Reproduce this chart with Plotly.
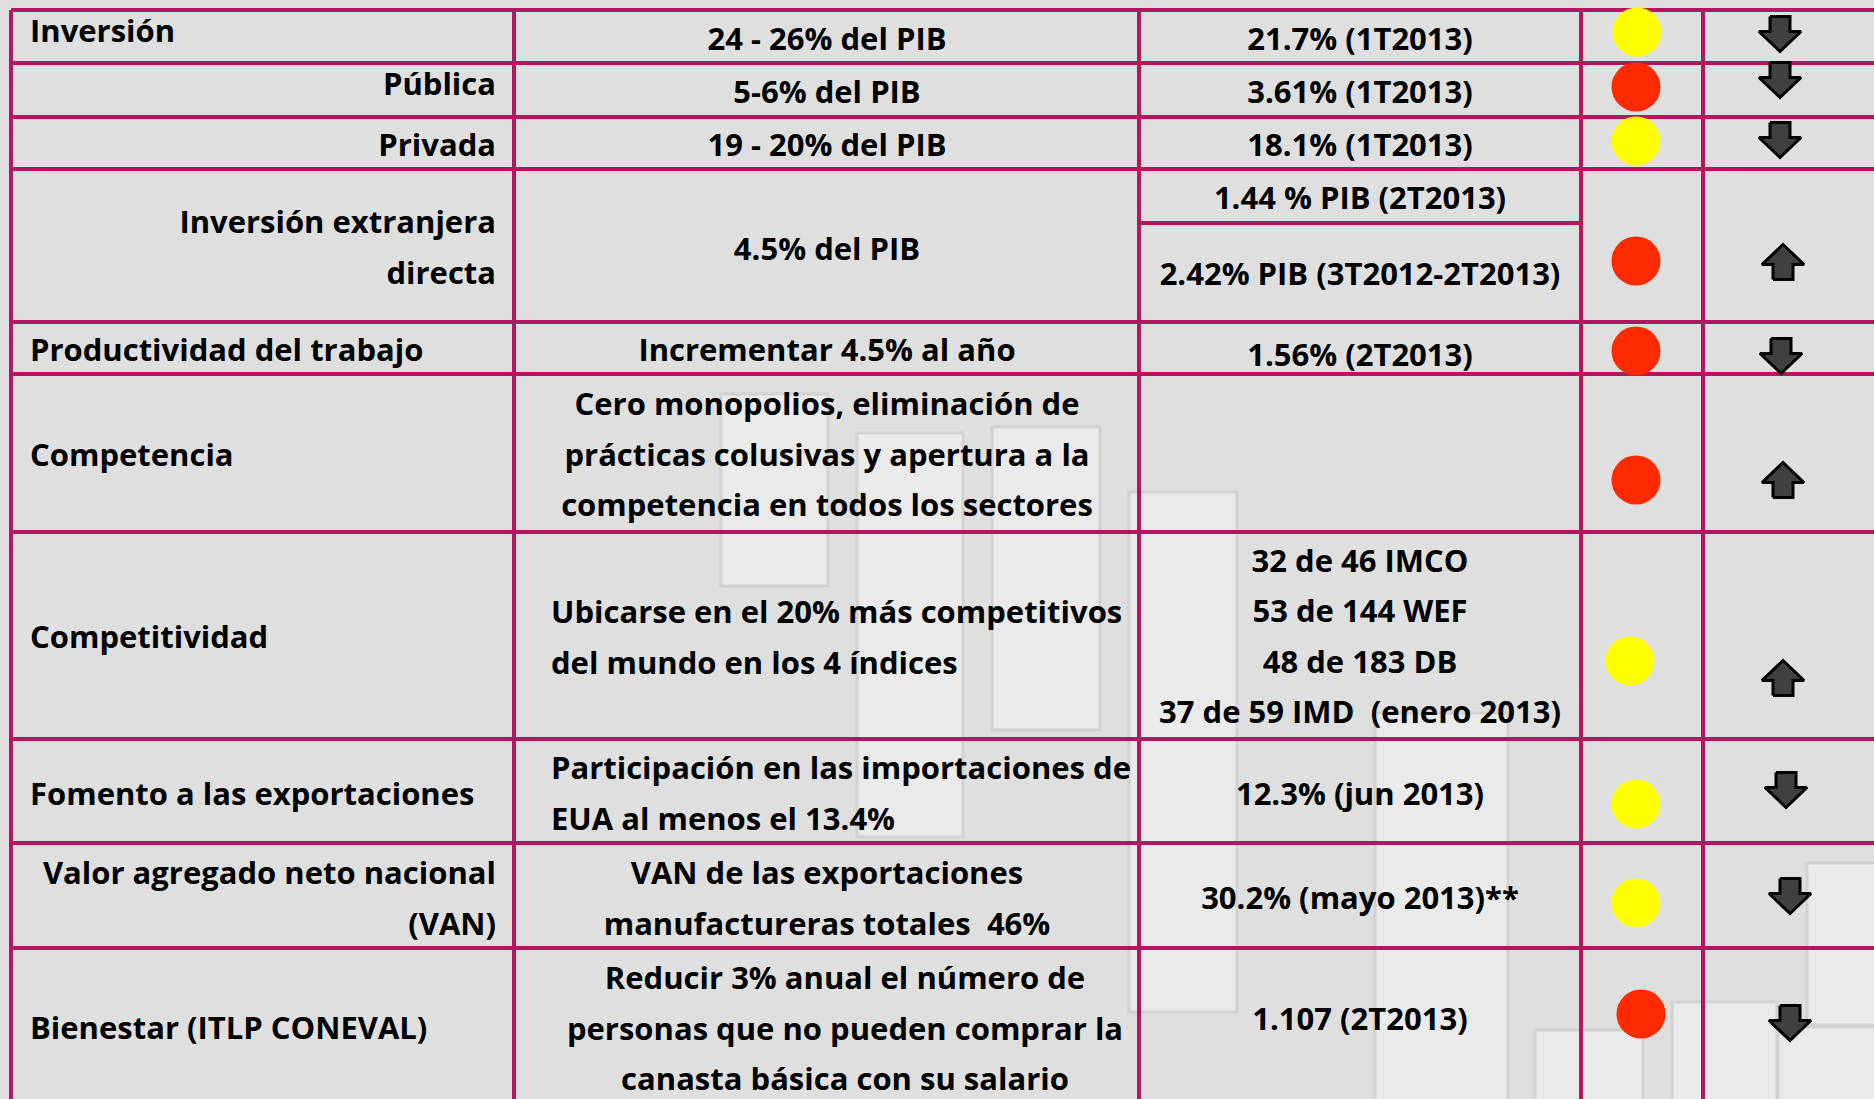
import plotly.graph_objects as go

# ---------------- data ----------------
indicadores = [
    ["Inversión"],
    ["Pública"],
    ["Privada"],
    ["Inversión extranjera", "directa"],
    ["Productividad del trabajo"],
    ["Competencia"],
    ["Competitividad"],
    ["Fomento a las exportaciones"],
    ["Valor agregado neto nacional", "(VAN)"],
    ["Bienestar (ITLP CONEVAL)"],
]
metas = [
    ["24 - 26% del PIB"],
    ["5-6% del PIB"],
    ["19 - 20% del PIB"],
    ["4.5% del PIB"],
    ["Incrementar 4.5% al año"],
    ["Cero monopolios, eliminación de", "prácticas colusivas y apertura a la", "competencia en todos los sectores"],
    ["Ubicarse en el 20% más competitivos", "del mundo en los 4 índices"],
    ["Participación en las importaciones de", "EUA al menos el 13.4%"],
    ["VAN de las exportaciones", "manufactureras totales  46%"],
    ["Reducir 3% anual el número de", "personas que no pueden comprar la", "canasta básica con su salario"],
]
situacion = [
    ["21.7% (1T2013)"],
    ["3.61% (1T2013)"],
    ["18.1% (1T2013)"],
    ["1.44 % PIB (2T2013)", "2.42% PIB (3T2012-2T2013)"],
    ["1.56% (2T2013)"],
    [],
    ["32 de 46 IMCO", "53 de 144 WEF", "48 de 183 DB", "37 de 59 IMD  (enero 2013)"],
    ["12.3% (jun 2013)"],
    ["30.2% (mayo 2013)**"],
    ["1.107 (2T2013)"],
]
semaforo = ["amarillo", "rojo", "amarillo", "rojo", "rojo", "rojo", "amarillo", "amarillo", "amarillo", "rojo"]
tendencia = ["baja", "baja", "baja", "sube", "baja", "sube", "sube", "baja", "baja", "baja"]

# ---------------- layout / style (positions in pixels) ----------------
W, H = 1874, 1099
LINE = "#B5175E"
BG = "#DFDFDF"
FONT = "Open Sans"
FS = 31
LH = 50.5
DY = 3.5  # baseline correction for the substitute font
colores = {"amarillo": "#FFFF00", "rojo": "#FF2A00"}

col_edges = [11, 514, 1139, 1581, 1703, W + 5]
row_edges = [10, 63, 117, 169, 322, 374, 532, 739, 843, 948, H + 5]
sub_line_y = 223  # split inside row 4, column 3

# per-row text anchors: (align, x, y_center)
c1_pos = [("l", 30, 31), ("r", 496, 84), ("r", 496, 145), ("r", 496, 247), ("l", 30, 350),
          ("l", 30, 455), ("l", 30, 637), ("l", 30, 794), ("r", 496, 898), ("l", 30, 1028)]
c2_pos = [("c", 827, 39), ("c", 827, 92), ("c", 827, 145), ("c", 827, 249), ("c", 827, 350),
          ("c", 827, 454.5), ("l", 551, 637), ("l", 551, 793), ("c", 827, 898), ("c", 845, 1028.5)]
c3_pos = [("c", 1360, 39), ("c", 1360, 92), ("c", 1360, 145), ("c", 1360, None), ("c", 1360, 355),
          ("c", 1360, 455), ("c", 1360, 636), ("c", 1360, 794), ("c", 1360, 898), ("c", 1360, 1019)]
c3_sub_y = [198, 274]
circ_pos = [(1637, 32), (1636, 87), (1636, 141), (1636, 261), (1636, 351),
            (1636, 480), (1630, 661), (1636, 804), (1636, 903), (1641, 1014)]
arrow_pos = [(1780, 34), (1780, 80), (1780, 140), (1783, 262), (1781, 356),
             (1783, 480), (1783, 678), (1786, 790), (1790, 896), (1790, 1023)]

deco_boxes = [(721, 394, 828, 586), (857, 433, 963, 837), (992, 427, 1100, 730),
              (1129, 492, 1237, 1012), (1375, 713, 1508, 1110), (1535, 1030, 1643, 1110),
              (1672, 1002, 1777, 1110), (1807, 863, 1880, 1025), (1778, 1027, 1880, 1110)]

fig = go.Figure()
shapes = []
for (x0, y0, x1, y1) in deco_boxes:
    shapes.append(dict(type="rect", x0=x0, y0=y0, x1=x1, y1=y1, layer="below",
                       fillcolor="#EAEAEA", line=dict(color="#D2D2D2", width=3)))
# horizontal lines
for y in row_edges[:-1]:
    shapes.append(dict(type="line", x0=col_edges[0], x1=W + 5, y0=y, y1=y, layer="below",
                       line=dict(color=LINE, width=4)))
shapes.append(dict(type="line", x0=col_edges[2], x1=col_edges[3], y0=sub_line_y, y1=sub_line_y,
                   layer="below", line=dict(color=LINE, width=4)))
for x in col_edges[:-1]:
    shapes.append(dict(type="line", x0=x, x1=x, y0=row_edges[0], y1=H + 5, layer="below",
                       line=dict(color=LINE, width=4)))

# texts
groups = {"l": ([], [], []), "r": ([], [], []), "c": ([], [], [])}

def add_lines(lines, align, x, yc):
    n = len(lines)
    for i, t in enumerate(lines):
        y = yc + (i - (n - 1) / 2) * LH + DY
        g = groups[align]
        g[0].append(x); g[1].append(y); g[2].append(t)

for i in range(len(indicadores)):
    a, x, y = c1_pos[i]
    add_lines(indicadores[i], a, x, y)
    a, x, y = c2_pos[i]
    add_lines(metas[i], a, x, y)
    a, x, y = c3_pos[i]
    if y is None:
        for t, yy in zip(situacion[i], c3_sub_y):
            add_lines([t], a, x, yy)
    else:
        add_lines(situacion[i], a, x, y)

tp = {"l": "middle right", "r": "middle left", "c": "middle center"}
for k, (xs, ys, ts) in groups.items():
    fig.add_trace(go.Scatter(x=xs, y=ys, text=ts, mode="text", textposition=tp[k],
                             textfont=dict(family=FONT, size=FS, color="#000000", weight="bold"),
                             hoverinfo="skip", showlegend=False))

# semaforo circles
fig.add_trace(go.Scatter(x=[p[0] for p in circ_pos], y=[p[1] for p in circ_pos], mode="markers",
                         marker=dict(size=49, color=[colores[s] for s in semaforo], line=dict(width=0)),
                         hoverinfo="skip", showlegend=False))

# trend arrows (block arrows)
ax, ay = [], []
for (cx, cy), d in zip(arrow_pos, tendencia):
    s = 1 if d == "baja" else -1
    hw, sw, h, hh = 21, 10, 35, 20
    top = cy - s * h / 2
    mid = cy + s * (h / 2 - hh)
    tip = cy + s * h / 2
    pts = [(cx - sw, top), (cx + sw, top), (cx + sw, mid), (cx + hw, mid), (cx, tip),
           (cx - hw, mid), (cx - sw, mid), (cx - sw, top)]
    ax += [p[0] for p in pts] + [None]
    ay += [p[1] for p in pts] + [None]
fig.add_trace(go.Scatter(x=ax, y=ay, mode="lines", fill="toself", fillcolor="#404040",
                         line=dict(color="#000000", width=3), hoverinfo="skip", showlegend=False))

fig.update_layout(
    width=W, height=H, margin=dict(l=0, r=0, t=0, b=0),
    paper_bgcolor=BG, plot_bgcolor=BG, shapes=shapes,
    xaxis=dict(range=[0, W], visible=False, fixedrange=True),
    yaxis=dict(range=[H, 0], visible=False, fixedrange=True),
)
fig.write_html("out.html", config={"displayModeBar": False},
               post_script="document.body.style.margin='0';document.body.style.overflow='hidden';")
